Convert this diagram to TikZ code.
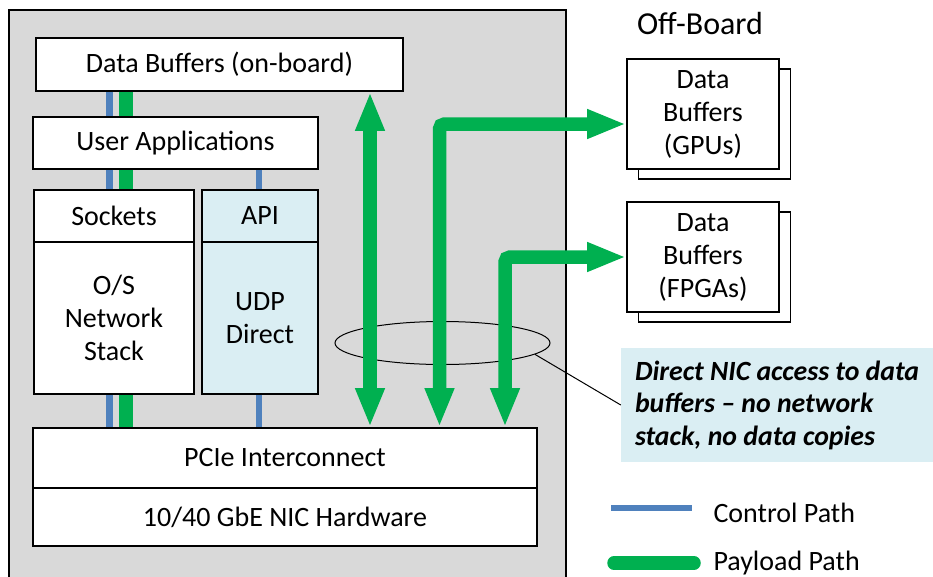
\documentclass[tikz,border=0pt]{standalone}
\usepackage{fontspec}
\setmainfont{Carlito}
\usetikzlibrary{arrows.meta,shapes.geometric,calc}
\definecolor{boardgray}{HTML}{D9D9D9}
\definecolor{paygreen}{HTML}{00B050}
\definecolor{ctrlblue}{HTML}{4F81BD}
\definecolor{paleblue}{HTML}{DAEEF3}
\tikzset{
  lbl/.style={font=\fontsize{28}{33}\selectfont},
  blk/.style={lbl, draw=black, line width=1.8pt, fill=white, inner sep=0pt, align=center},
  softblk/.style={blk, fill=paleblue},
  ctrl/.style={draw=ctrlblue, line width=6.5pt},
  pay/.style={draw=paygreen, line width=13.5pt},
  >={Triangle[length=39pt,width=27pt]},
}
\begin{document}
\begin{tikzpicture}[x=1pt,y=-1pt]
\useasboundingbox (0,0) rectangle (933,576);

% board outline
\node[draw=black, line width=1.5pt, fill=boardgray, minimum width=557pt, minimum height=590pt, inner sep=0pt] (board) at (287.5,305) {};

% software stack
\node[blk, minimum width=367pt, minimum height=53pt] (dbuf) at (219.5,64.5) {Data Buffers (on-board)};
\node[blk, minimum width=285pt, minimum height=52pt] (ua) at (175.5,143) {User Applications};
\node[blk, minimum width=160pt, minimum height=52pt] (sock) at (114,216) {Sockets};
\node[blk, minimum width=160pt, minimum height=152pt] (os) at (114,318) {O/S\\Network\\Stack};
\node[softblk, minimum width=116pt, minimum height=52pt] (api) at (260,216) {API};
\node[softblk, minimum width=116pt, minimum height=152pt] (udp) at (260,318) {UDP\\Direct};
\node[blk, minimum width=504pt, minimum height=60pt] (pcie) at (285,458) {PCIe Interconnect};
\node[blk, minimum width=504pt, minimum height=58pt] (nic) at (285,517) {10/40 GbE NIC Hardware};

% off-board buffers (stacked)
\node[font=\fontsize{32}{38}\selectfont] (offb) at (700,24) {Off-Board};
\node[blk, minimum width=152pt, minimum height=110pt] (gpuback) at (714.5,124) {};
\node[blk, minimum width=152pt, minimum height=110pt] (gpu) at (703,114) {Data\\Buffers\\(GPUs)};
\node[blk, minimum width=152pt, minimum height=110pt] (fpgaback) at (714.5,267) {};
\node[blk, minimum width=152pt, minimum height=110pt] (fpga) at (703,257) {Data\\Buffers\\(FPGAs)};

% path columns
\coordinate (bx) at (109.5,0);
\coordinate (gx) at (126,0);
\coordinate (ax) at (259,0);
\coordinate (a1) at (370,0);
\coordinate (a2) at (439.5,0);
\coordinate (a3) at (505,0);

% control and payload links through the stack
\draw[ctrl] (dbuf.south -| bx) -- (ua.north -| bx);
\draw[pay]  (dbuf.south -| gx) -- (ua.north -| gx);
\draw[ctrl] (ua.south -| bx) -- (sock.north -| bx);
\draw[pay]  (ua.south -| gx) -- (sock.north -| gx);
\draw[ctrl] (ua.south -| ax) -- (api.north -| ax);
\draw[ctrl] (os.south -| bx) -- (pcie.north -| bx);
\draw[pay]  (os.south -| gx) -- (pcie.north -| gx);
\draw[ctrl] (udp.south -| ax) -- (pcie.north -| ax);

% direct-access ring and callout
\node[ellipse, draw=black, line width=1pt, minimum width=215pt, minimum height=43pt, inner sep=0pt] (ring) at (442.5,343) {};
\node[fill=paleblue, minimum width=312pt, minimum height=114pt, inner sep=0pt, align=left,
      font=\fontsize{27.8}{32.5}\selectfont\bfseries\itshape] (note) at (777,405)
      {Direct NIC access to data\\buffers – no network\\stack, no data copies};
\draw[line width=1pt] (ring.-7) -- (note.west);

% direct payload paths
\draw[pay,<->] (dbuf.south -| a1) -- (pcie.north -| a1);
\draw[pay,<->,rounded corners=5pt] (pcie.north -| a2) |- ([yshift=-10pt]gpu.west);
\draw[pay,<->,rounded corners=5pt] (pcie.north -| a3) |- (fpga.west);

% legend
\coordinate (cl1) at (611,508);
\coordinate (cl2) at (692,508);
\draw[ctrl] (cl1) -- (cl2);
\node[lbl, anchor=west] (cltxt) at (710,513) {Control Path};
\coordinate (pl1) at (614,563);
\coordinate (pl2) at (694,563);
\draw[pay, line cap=round] (pl1) -- (pl2);
\node[lbl, anchor=west] (pltxt) at (710,563) {Payload Path};
\end{tikzpicture}
\end{document}
